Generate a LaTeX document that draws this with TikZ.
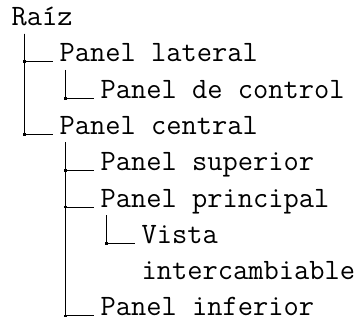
\documentclass[tikz,border=0pt]{standalone}
\usepackage{tikz}
\usetikzlibrary{positioning, calc}

\tikzset{
    entry/.style={anchor=base west, inner sep=0pt, font=\fontsize{14.8pt}{18.15pt}\ttfamily},
    branch/.style={line width=0.5pt},
}

\begin{document}
\begin{tikzpicture}[x=0.5pt, y=-0.5pt]
    \useasboundingbox (0,0) rectangle (356,321);

    % Entries of the tree
    \node[entry] (raiz) at (11.2, 25.5) {Raíz};
    \node[entry] (lateral) at (59.2, 61.8) {Panel lateral};
    \node[entry] (control) at (100.2, 98.1) {Panel de control};
    \node[entry] (central) at (59.2, 134.4) {Panel central};
    \node[entry] (superior) at (100.2, 170.7) {Panel superior};
    \node[entry] (principal) at (100.2, 207) {Panel principal};
    \node[entry, align=left] (vista) at (141.2, 279.6) {Vista\\intercambiable};
    \node[entry] (inferior) at (100.2, 315.9) {Panel inferior};
    \coordinate (vistatop) at ($(vista.base west)+(0,-36.3)$);

    % Stems below the parents
    \coordinate (raizstem) at ($(lateral.base west |- raiz.base)+(-35,8)$);
    \coordinate (lateralstem) at ($(control.base west |- lateral.base)+(-35,8)$);
    \coordinate (centralstem) at ($(superior.base west |- central.base)+(-35,8)$);
    \coordinate (principalstem) at ($(vistatop |- principal.base)+(-35,8)$);

    % Branches
    \draw[branch] (raizstem) |- ($(lateral.base west)+(-6,0)$);
    \draw[branch] (raizstem) |- ($(central.base west)+(-6,0)$);
    \draw[branch] (lateralstem) |- ($(control.base west)+(-6,0)$);
    \draw[branch] (centralstem) |- ($(superior.base west)+(-6,0)$);
    \draw[branch] (centralstem) |- ($(principal.base west)+(-6,0)$);
    \draw[branch] (centralstem) |- ($(inferior.base west)+(-6,0)$);
    \draw[branch] (principalstem) |- ($(vistatop)+(-6,0)$);

    % Junction dots
    \foreach \n in {lateral, central, control, superior, principal, inferior}
        \fill ($(\n.base west)+(-35,0)$) +(-1.4,-1.4) rectangle +(1.4,1.4);
    \fill ($(vistatop)+(-35,0)$) +(-1.4,-1.4) rectangle +(1.4,1.4);
\end{tikzpicture}
\end{document}
